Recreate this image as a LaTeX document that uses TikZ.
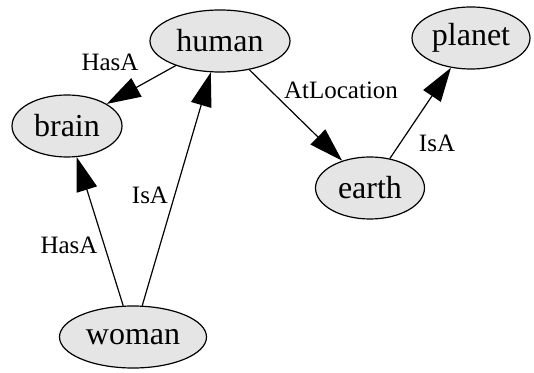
\documentclass[tikz,border=0pt]{standalone}
\usepackage{fontspec}
\setmainfont{Liberation Serif}
\usetikzlibrary{shapes.geometric,arrows.meta}
\begin{document}
\begin{tikzpicture}[x=1pt,y=1pt,
  concept/.style={draw, ellipse, fill=gray!20, line width=1.2pt, minimum height=62pt, inner sep=0pt, font=\fontsize{32}{38}\selectfont},
  rel/.style={-{Triangle[length=34pt,width=21pt]}, line width=1.2pt},
  rellabel/.style={inner sep=0pt, font=\fontsize{25}{30}\selectfont}]
\useasboundingbox (0,0) rectangle (534,372);
\node[concept, minimum width=140pt] (human) at (220,331) {human};
\node[concept, minimum width=118pt] (planet) at (471,334) {planet};
\node[concept, minimum width=110pt] (brain) at (67,246) {brain};
\node[concept, minimum width=109pt] (earth) at (370,184) {earth};
\node[concept, minimum width=147pt] (woman) at (133,35) {woman};
\draw[rel] (human) -- (brain);
\draw[rel] (human) -- (earth);
\draw[rel] (earth) -- (planet);
\draw[rel] (woman) -- (brain);
\draw[rel] (woman) -- (human);
\node[rellabel] (l1) at (110,310) {HasA};
\node[rellabel] (l2) at (341,282) {AtLocation};
\node[rellabel] (l3) at (437,229) {IsA};
\node[rellabel] (l4) at (69,127) {HasA};
\node[rellabel] (l5) at (150,177) {IsA};
\end{tikzpicture}
\end{document}
